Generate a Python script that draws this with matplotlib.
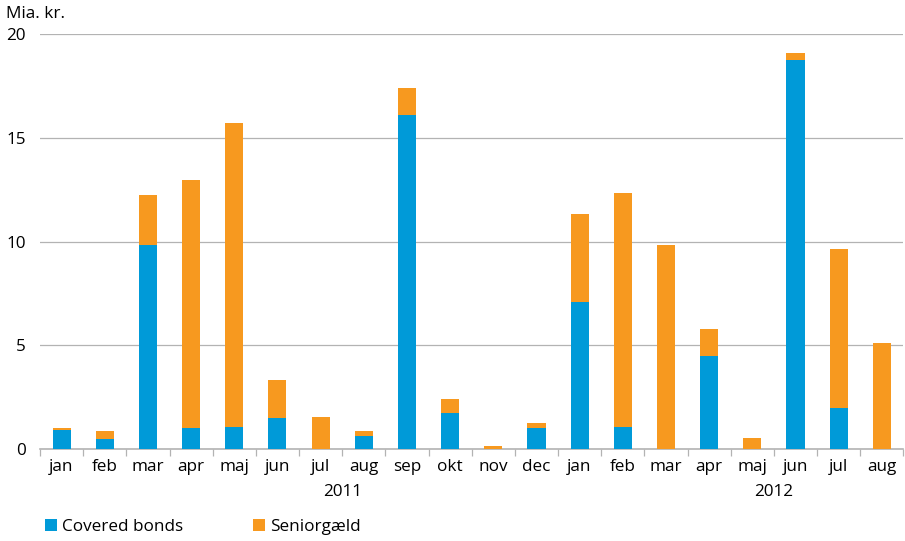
import matplotlib
matplotlib.use("Agg")
import matplotlib.pyplot as plt
import numpy as np

plt.rcParams['font.family'] = ['Open Sans', 'DejaVu Sans']

months = ["jan", "feb", "mar", "apr", "maj", "jun", "jul", "aug", "sep", "okt", "nov", "dec",
          "jan", "feb", "mar", "apr", "maj", "jun", "jul", "aug"]
covered = [0.92, 0.5, 9.83, 1.0, 1.06, 1.5, 0.0, 0.63, 16.1, 1.73, 0.0, 1.0,
           7.08, 1.06, 0.0, 4.48, 0.0, 18.75, 1.98, 0.0]
senior = [0.08, 0.37, 2.41, 11.96, 14.64, 1.83, 1.54, 0.24, 1.3, 0.68, 0.14, 0.25,
          4.25, 11.28, 9.83, 1.3, 0.53, 0.33, 7.66, 5.11]
years = ["2011", "2012"]

blue = "#009ad8"
orange = "#f7991f"
grey = "#b3b3b3"
fs = 12.3

fig = plt.figure(figsize=(9.05, 5.41), dpi=100)
ax = fig.add_axes([0.0442, 0.170, 0.954, 0.767])

x = np.arange(len(months))
ax.bar(x, covered, width=0.42, color=blue, label="Covered bonds", zorder=3)
ax.bar(x, senior, width=0.42, bottom=covered, color=orange, label="Seniorgæld", zorder=3)

ax.set_xlim(-0.5, len(months) - 0.5)
ax.set_ylim(0, 20)
ax.set_yticks([0, 5, 10, 15, 20])
ax.yaxis.grid(True, color=grey, linewidth=0.9, zorder=0)
ax.tick_params(axis='y', length=0, labelsize=fs, pad=10)

ax.set_xticks(x)
ax.set_xticklabels(months, fontsize=fs)
ax.tick_params(axis='x', which='major', length=0, pad=7)
ax.set_xticks(np.arange(-0.5, len(months) + 0.5, 1), minor=True)
ax.tick_params(axis='x', which='minor', length=5, color=grey, width=0.9)

for s in ["top", "right", "left"]:
    ax.spines[s].set_visible(False)
ax.spines["bottom"].set_color(grey)
ax.spines["bottom"].set_linewidth(1.2)

# year labels
ax.text(6.5, -0.085, years[0], transform=ax.get_xaxis_transform(), ha="center", va="top", fontsize=fs)
ax.text(16.5, -0.085, years[1], transform=ax.get_xaxis_transform(), ha="center", va="top", fontsize=fs)

ax.text(-0.039, 1.03, "Mia. kr.", transform=ax.transAxes, ha="left", va="bottom", fontsize=fs)

ax.legend(loc="center left", bbox_to_anchor=(0.006, -0.188), ncol=2, frameon=False,
          fontsize=fs, handlelength=0.7, handleheight=0.7, handletextpad=0.3,
          columnspacing=4.1, borderaxespad=0, borderpad=0)

fig.savefig("out.png", dpi=100)
